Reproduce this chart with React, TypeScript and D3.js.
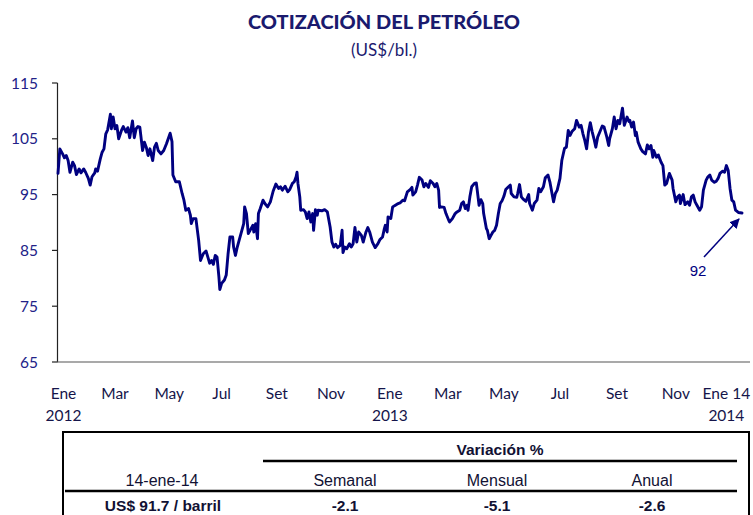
import React from "react";
import * as d3 from "d3";

// Días transcurridos desde el 1 de enero de 2012 y cotización (US$/bl.)
const dias = [
  0, 2, 5, 7, 9, 11, 13, 16, 18, 20, 23, 25, 28, 30, 33, 35, 37, 40, 41, 43,
  46, 48, 50, 52, 54, 57, 58, 60, 62, 64, 66, 69, 71, 74, 76, 78, 81, 83, 85, 87,
  89, 92, 94, 96, 98, 100, 103, 105, 107, 109, 112, 115, 118, 122, 124, 125, 128, 132, 135, 137,
  139, 142, 144, 145, 147, 150, 153, 155, 158, 161, 163, 165, 167, 169, 171, 173, 175, 176, 178, 181,
  183, 185, 187, 190, 191, 193, 195, 197, 200, 202, 203, 205, 207, 210, 212, 213, 215, 217, 218, 220,
  223, 225, 228, 231, 234, 237, 240, 242, 244, 247, 250, 252, 255, 257, 259, 260, 261, 263, 264, 267,
  269, 271, 273, 275, 277, 278, 280, 282, 283, 287, 290, 293, 296, 298, 300, 302, 304, 307, 309, 310,
  312, 314, 317, 319, 321, 323, 325, 327, 330, 332, 335, 337, 339, 342, 345, 348, 350, 353, 355, 356,
  358, 359, 362, 364, 367, 370, 372, 375, 377, 380, 383, 385, 386, 389, 391, 393, 396, 398, 400, 403,
  405, 408, 410, 412, 414, 415, 417, 420, 422, 425, 426, 429, 432, 434, 437, 439, 441, 443, 445, 446,
  448, 450, 453, 455, 456, 458, 460, 462, 463, 466, 467, 469, 471, 473, 475, 477, 479, 481, 483, 485,
  487, 490, 492, 493, 496, 499, 500, 502, 504, 506, 509, 512, 513, 516, 518, 521, 523, 525, 528, 530,
  533, 535, 538, 539, 541, 543, 546, 548, 550, 551, 553, 555, 557, 559, 562, 564, 567, 569, 571, 573,
  575, 577, 579, 581, 583, 585, 587, 590, 592, 594, 597, 599, 600, 603, 605, 607, 609, 611, 614, 616,
  619, 621, 622, 624, 626, 628, 629, 631, 634, 636, 639, 641, 643, 645, 647, 648, 651, 653, 656, 658,
  660, 662, 665, 668, 669, 672, 674, 676, 677, 680, 682, 685, 687, 689, 691, 693, 695, 698, 700, 702,
  705, 707, 709, 711, 714, 716, 718, 720, 723, 725, 727, 729, 731, 733, 735, 737, 740, 744,
];

const precios = [
  98.8, 103.2, 102.3, 101.6, 102.0, 101.1, 99.0, 100.8, 100.2, 98.6, 99.6, 98.9, 99.6, 99.0, 97.9, 96.7, 98.2, 98.9, 99.6, 99.2,
  101.4, 102.6, 103.2, 105.9, 106.6, 109.4, 106.8, 108.9, 106.8, 107.4, 105.0, 106.5, 107.2, 106.2, 107.0, 105.2, 108.2, 105.2, 106.8, 107.2,
  107.1, 102.9, 104.4, 103.5, 102.0, 103.2, 101.1, 103.5, 104.2, 102.9, 102.3, 102.9, 104.1, 106.0, 104.5, 98.5, 97.3, 97.3, 95.2, 94.0,
  92.2, 92.5, 91.3, 89.8, 90.7, 90.7, 86.8, 83.2, 84.4, 84.9, 83.8, 82.7, 83.2, 82.5, 84.1, 83.8, 80.3, 78.0, 79.1, 79.7,
  80.6, 84.4, 87.4, 87.4, 85.6, 84.1, 85.6, 86.8, 88.6, 89.8, 92.8, 91.6, 88.0, 88.9, 89.5, 88.3, 89.8, 87.1, 91.6, 92.5,
  94.0, 93.4, 92.8, 93.7, 95.6, 96.9, 96.1, 96.4, 95.8, 96.5, 95.5, 95.9, 97.0, 97.3, 98.2, 99.0, 97.0, 94.6, 92.2, 92.3,
  91.9, 90.7, 91.9, 90.1, 91.6, 88.6, 92.3, 91.3, 92.2, 92.1, 92.3, 91.9, 89.2, 86.5, 85.6, 86.1, 85.5, 85.9, 88.6, 84.6,
  85.6, 85.3, 86.2, 85.6, 86.2, 89.1, 86.5, 88.3, 87.7, 86.5, 88.3, 89.1, 88.3, 86.5, 85.5, 86.2, 86.9, 87.4, 88.9, 89.5,
  88.3, 91.0, 90.7, 92.8, 93.1, 93.4, 93.5, 94.0, 93.9, 95.5, 95.9, 96.3, 94.9, 95.5, 96.7, 98.1, 97.6, 96.4, 97.0, 96.3,
  97.5, 97.0, 96.4, 97.0, 95.8, 92.7, 92.8, 92.7, 91.6, 90.4, 90.1, 90.7, 91.6, 91.9, 92.2, 93.4, 93.7, 92.5, 93.1, 92.2,
  94.6, 96.4, 97.0, 97.1, 95.8, 93.1, 94.1, 93.4, 91.6, 88.9, 88.6, 87.1, 87.7, 88.3, 88.6, 89.5, 91.6, 93.4, 93.9, 94.7,
  95.9, 96.4, 96.7, 95.2, 94.6, 94.5, 95.2, 96.8, 94.6, 94.2, 93.8, 95.0, 93.4, 92.2, 93.4, 94.0, 96.1, 95.5, 96.4, 98.0,
  98.5, 97.3, 94.6, 93.7, 95.2, 95.8, 97.9, 101.1, 102.6, 103.3, 103.5, 106.5, 105.6, 106.3, 106.8, 108.3, 107.1, 107.4, 105.9, 104.7,
  103.2, 106.2, 107.9, 106.3, 105.0, 103.5, 105.3, 106.5, 107.3, 107.1, 105.3, 103.8, 105.0, 106.8, 108.9, 106.8, 108.3, 107.7, 110.5, 107.4,
  108.9, 108.1, 108.3, 107.1, 108.0, 105.6, 106.2, 104.4, 103.2, 102.7, 102.3, 103.9, 103.2, 103.8, 101.7, 102.9, 101.7, 102.1, 100.8, 100.2,
  96.7, 97.0, 98.8, 97.6, 96.1, 93.7, 94.6, 94.9, 93.4, 95.0, 93.2, 93.7, 93.1, 94.6, 94.9, 93.7, 93.1, 92.2, 92.8, 95.8,
  97.6, 98.2, 98.5, 97.6, 97.2, 97.4, 97.9, 98.8, 99.2, 99.0, 100.2, 99.3, 96.1, 94.0, 93.7, 92.2, 91.8, 91.7,
];

const yTicks = [65, 75, 85, 95, 105, 115];
const etiquetasMes = ["Ene", "Mar", "May", "Jul", "Set", "Nov", "Ene", "Mar", "May", "Jul", "Set", "Nov", "Ene 14"];
const fechasEtiqueta = [
  "2012-01-07", "2012-03-03", "2012-05-01", "2012-06-27", "2012-08-26", "2012-10-24", "2012-12-27",
  "2013-02-28", "2013-04-30", "2013-06-30", "2013-08-31", "2013-11-03", "2013-12-28",
];
const etiquetasAnio = ["2012", "", "", "", "", "", "2013", "", "", "", "", "", "2014"];

const tablaFecha = "14-ene-14";
const tablaPrecio = "US$ 91.7 / barril";
const tablaColumnas = ["Semanal", "Mensual", "Anual"];
const tablaValores = ["-2.1", "-5.1", "-2.6"];
const ultimoValorEtiqueta = "92";

const W = 753;
const H = 515;
const NAVY = "#000080";
const TXT = "#1a1a6e";
const CAL = "Lato, 'Open Sans', sans-serif";
const ARIAL = "'Liberation Sans', Arial, sans-serif";

export default function App() {
  const parse = d3.timeParse("%Y-%m-%d");
  const inicio = new Date(2012, 0, 1);
  const fin = new Date(2014, 0, 14);
  const data = dias.map((d, i) => ({ date: d3.timeDay.offset(inicio, d), v: precios[i] }));

  const x = d3.scaleTime().domain([inicio, fin]).range([58, 742]);
  const y = d3.scaleLinear().domain([65, 115]).range([362, 83]);

  const line = d3
    .line<{ date: Date; v: number }>()
    .x((d) => x(d.date))
    .y((d) => y(d.v));

  const last = data[data.length - 1];
  const tipX = x(last.date) - 3;
  const tipY = y(last.v) + 6;
  const tailX = tipX - 35;
  const tailY = tipY + 38;

  const colX = [345, 497, 652];

  return (
    <svg
      width={W}
      height={H}
      style={{ position: "absolute", left: 0, top: 0, background: "#fff" }}
    >
      <defs>
        <marker id="arr" viewBox="0 0 10 10" refX="9" refY="5" markerWidth="10" markerHeight="10" markerUnits="userSpaceOnUse" orient="auto">
          <path d="M0,0 L10,5 L0,10 z" fill={NAVY} />
        </marker>
      </defs>
      <rect width={W} height={H} fill="#fff" />
      <text x={384} y={29} textAnchor="middle" fontFamily={CAL} fontWeight="900" fontSize={19} fill={TXT} textLength={272} lengthAdjust="spacingAndGlyphs">
        COTIZACIÓN DEL PETRÓLEO
      </text>
      <text x={384} y={56} textAnchor="middle" fontFamily={CAL} fontSize={17} fill={TXT}>
        (US$/bl.)
      </text>

      {/* Y axis */}
      <line x1={57.5} x2={57.5} y1={y(115)} y2={y(65)} stroke="#222" strokeWidth={1.2} />
      {yTicks.map((t) => (
        <g key={t}>
          <line x1={52} x2={57.5} y1={y(t)} y2={y(t)} stroke="#222" strokeWidth={1.2} />
          <text x={38} y={y(t) + 5.5} textAnchor="end" fontFamily={CAL} fontSize={15.5} fill="#222288">
            {t}
          </text>
        </g>
      ))}
      {/* X axis */}
      <line x1={57} x2={750} y1={y(65)} y2={y(65)} stroke="#555" strokeWidth={1.2} />
      {fechasEtiqueta.map((f, i) => {
        const px = x(parse(f) as Date);
        return (
          <g key={f}>
            <text x={px} y={399} textAnchor="middle" fontFamily={CAL} fontSize={15.5} fill="#15154a">
              {etiquetasMes[i]}
            </text>
            {etiquetasAnio[i] && (
              <text x={px} y={421} textAnchor="middle" fontFamily={CAL} fontSize={15.5} fill="#15154a">
                {etiquetasAnio[i]}
              </text>
            )}
          </g>
        );
      })}

      {/* Series */}
      <path d={line(data) || ""} fill="none" stroke={NAVY} strokeWidth={2.9} strokeLinejoin="round" strokeLinecap="round" />

      {/* Annotation */}
      <line x1={tailX} y1={tailY} x2={tipX} y2={tipY} stroke={NAVY} strokeWidth={1.5} markerEnd="url(#arr)" />
      <text x={tailX - 6} y={tailY + 19} textAnchor="middle" fontFamily={ARIAL} fontSize={15} fill={NAVY}>
        {ultimoValorEtiqueta}
      </text>

      {/* Table */}
      <g fontFamily={ARIAL} fill="#111133">
        <line x1={63} x2={749} y1={432} y2={432} stroke="#000" strokeWidth={2} />
        <line x1={63} x2={63} y1={431} y2={H} stroke="#000" strokeWidth={2} />
        <line x1={749} x2={749} y1={431} y2={H} stroke="#000" strokeWidth={2} />
        <text x={500} y={455} textAnchor="middle" fontWeight="bold" fontSize={15.5}>
          Variación %
        </text>
        <line x1={263} x2={737} y1={461} y2={461} stroke="#000" strokeWidth={2.5} />
        <text x={162} y={486} textAnchor="middle" fontSize={16}>
          {tablaFecha}
        </text>
        {tablaColumnas.map((c, i) => (
          <text key={c} x={colX[i]} y={486} textAnchor="middle" fontSize={16}>
            {c}
          </text>
        ))}
        <line x1={65} x2={737} y1={491} y2={491} stroke="#000" strokeWidth={2.5} />
        <text x={163} y={511} textAnchor="middle" fontWeight="bold" fontSize={15.5}>
          {tablaPrecio}
        </text>
        {tablaValores.map((v, i) => (
          <text key={i} x={colX[i]} y={511} textAnchor="middle" fontWeight="bold" fontSize={15.5}>
            {v}
          </text>
        ))}
      </g>
    </svg>
  );
}
